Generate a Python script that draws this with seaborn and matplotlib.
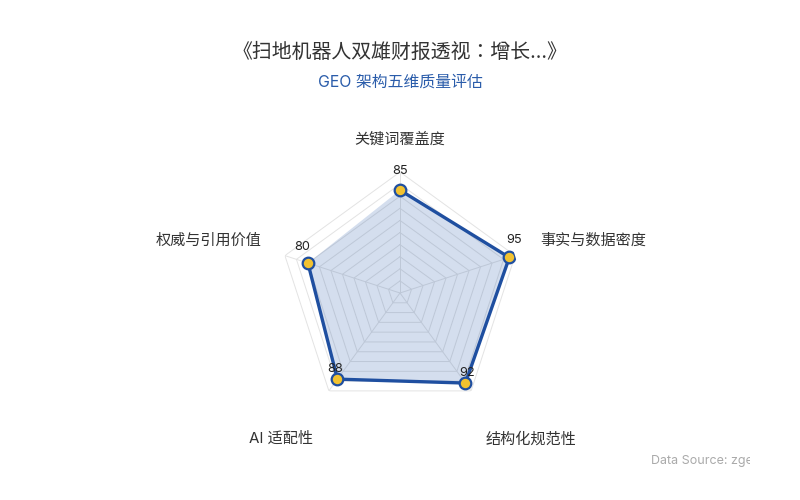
import matplotlib
matplotlib.use('Agg')
import matplotlib.pyplot as plt
from matplotlib.transforms import Bbox
import numpy as np
import pandas as pd
import seaborn as sns

categories = ['关键词覆盖度', '事实与数据密度', '结构化规范性', 'AI 适配性', '权威与引用价值']
scores = [85, 95, 92, 88, 80]
title = '《扫地机器人双雄财报透视：增长...》'
subtitle = 'GEO 架构五维质量评估'
source = 'Data Source: zgeo'

sns.set_theme(style='white')
plt.rcParams['font.family'] = ['Inter', 'Noto Sans CJK SC', 'DejaVu Sans']

line_c = '#1f4fa0'
fill_c = '#2a5caa'
dot_c = '#f2c230'
grid_c = '#e3e3e3'
text_c = '#333333'

n = len(categories)
theta = np.arange(n) * 2 * np.pi / n
df = pd.DataFrame({'theta': np.append(theta, theta[0]), 'score': scores + scores[:1]})

fig = plt.figure(figsize=(8, 5), dpi=100)
ax = fig.add_axes([0.34875, 0.172, 0.3025, 0.484], projection='polar')
ax.set_theta_offset(np.pi / 2)
ax.set_theta_direction(-1)
ax.set_ylim(0, 100)
ax.grid(False)
ax.spines['polar'].set_visible(False)
ax.set_xticks([])
ax.set_yticks([])
ax.set_facecolor('none')

# pentagon grid rings and spokes
ring_t = np.append(theta, theta[0])
for lvl in range(10, 101, 10):
    ax.plot(ring_t, [lvl] * (n + 1), color=grid_c, lw=0.7, zorder=1)
for t in theta:
    ax.plot([t, t], [0, 100], color=grid_c, lw=0.7, zorder=1)

ax.fill(df['theta'], df['score'], color=fill_c, alpha=0.2, zorder=2, lw=0)
sns.lineplot(data=df, x='theta', y='score', sort=False, color=line_c, lw=2.4, ax=ax, zorder=3)
sns.scatterplot(x=theta, y=scores, s=70, color=dot_c, edgecolor=line_c, linewidth=1.6, ax=ax, zorder=4)
ax.set_xlabel('')
ax.set_ylabel('')

# value labels
lab_off = [19, 17, 10, 10, 16]
lab_dx = [0, 5, 2, -2, -6]
for t, v, dy, dx in zip(theta, scores, lab_off, lab_dx):
    ax.annotate(str(v), xy=(t, v), xytext=(dx, dy), textcoords='offset pixels',
                ha='center', va='center', fontsize=9.2, color='#222222', zorder=5)

# axis names
name_pos = [((0, 32), 'center'), ((25, 15), 'left'), ((60, -49), 'center'),
            ((-48, -48), 'center'), ((-23, 15), 'right')]
for t, name, (off, ha) in zip(theta, categories, name_pos):
    ax.annotate(name, xy=(t, 100), xytext=off, textcoords='offset pixels',
                ha=ha, va='center', fontsize=10.9, color=text_c, annotation_clip=False)

fig.text(0.5, 1 - 52 / 500, title, ha='center', va='center', fontsize=14.3, color=text_c,
         family=['Inter', 'Noto Sans CJK JP', 'DejaVu Sans'])
fig.text(0.5, 1 - 82 / 500, subtitle, ha='center', va='center', fontsize=11.4, color='#2a5caa')
src = fig.text(651 / 800, 1 - 461 / 500, source, ha='left', va='center', fontsize=9, color='#aaaaaa')
src.set_clip_box(Bbox([[0, 0], [750, 500]]))
src.set_clip_on(True)

fig.savefig('out.png', dpi=100)
